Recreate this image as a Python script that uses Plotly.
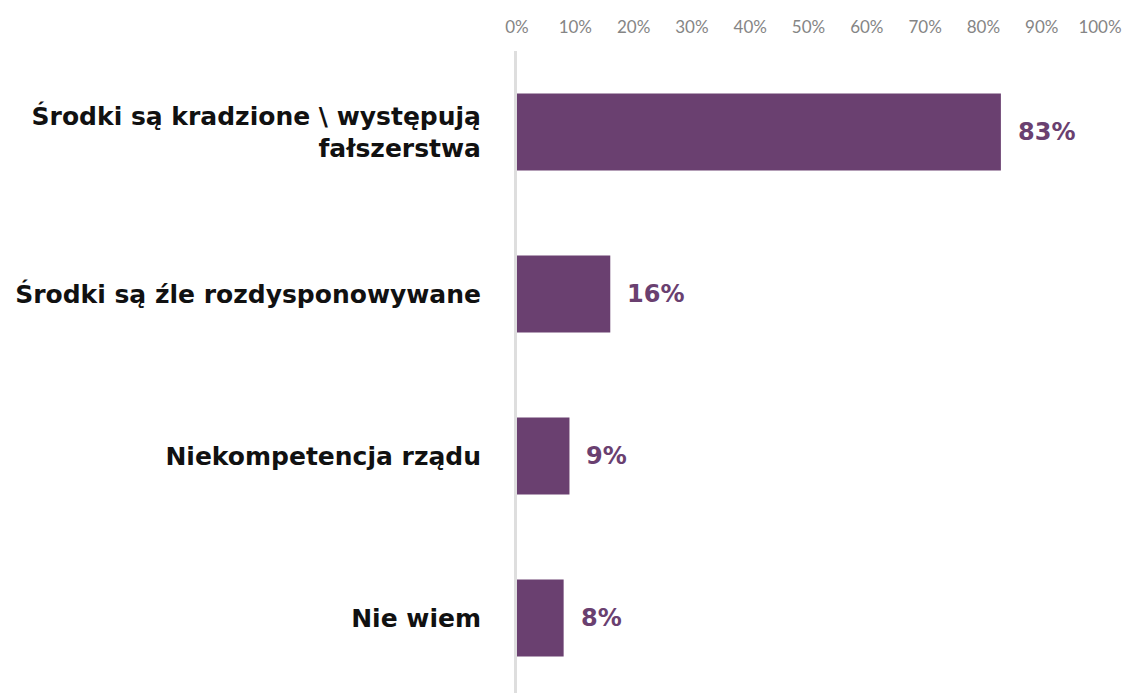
import plotly.graph_objects as go

categories = [
    "Środki są kradzione \\ występują<br>fałszerstwa",
    "Środki są źle rozdysponowywane",
    "Niekompetencja rządu",
    "Nie wiem",
]
values = [83, 16, 9, 8]
tick_vals = [0, 10, 20, 30, 40, 50, 60, 70, 80, 90, 100]
tick_text = [f"{v}%" for v in tick_vals]

bar_color = "#6a4070"

fig = go.Figure()
fig.add_trace(go.Bar(
    x=values,
    y=categories,
    orientation="h",
    marker=dict(color=bar_color, line=dict(width=0)),
    width=0.475,
    hoverinfo="skip",
))

for c, v in zip(categories, values):
    fig.add_annotation(
        x=v, y=c, text=f"<b>{v}%</b>", showarrow=False,
        xanchor="left", yanchor="middle", xshift=15,
        font=dict(family="DejaVu Sans", size=24, color=bar_color),
    )

fig.update_layout(
    width=1125, height=693,
    margin=dict(l=517, r=25, t=51, b=0),
    paper_bgcolor="white", plot_bgcolor="white",
    showlegend=False,
    xaxis=dict(
        side="top", range=[0, 100], tickvals=tick_vals, ticktext=tick_text,
        showgrid=False, zeroline=False, showline=False, automargin=False,
        tickfont=dict(family="Lato", size=17, color="#858585"),
        ticks="", ticklabelstandoff=14,
    ),
    yaxis=dict(
        type="category", categoryorder="array", categoryarray=categories,
        range=[3.463, -0.5], automargin=False,
        showgrid=False, zeroline=False,
        showline=True, linecolor="#dedede", linewidth=3,
        ticks="", ticklabelstandoff=28,
        tickfont=dict(family="DejaVu Sans", size=25, color="#111111", weight="bold"),
    ),
)

fig.write_html(
    "out.html",
    config={"displayModeBar": False},
    post_script="document.body.style.margin='0px';document.body.style.overflow='hidden';",
)
